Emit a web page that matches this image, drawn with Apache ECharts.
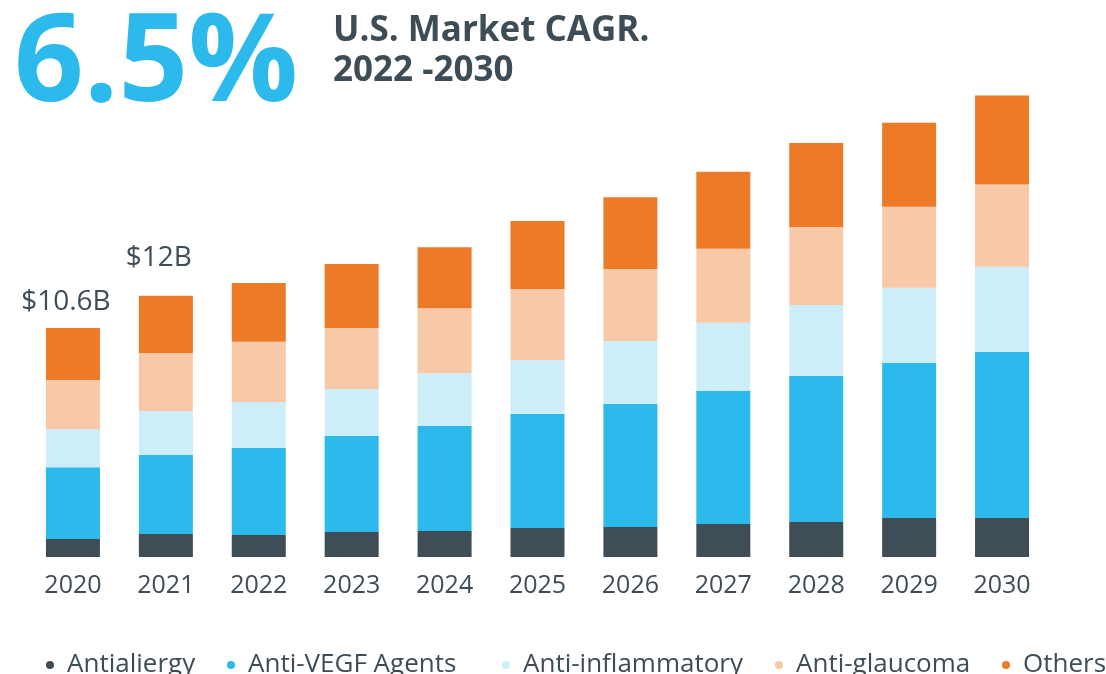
<!DOCTYPE html>
<html>
<head>
<meta charset="utf-8">
<title>U.S. Market CAGR 2022-2030</title>
<script src="https://cdn.jsdelivr.net/npm/echarts@6/dist/echarts.min.js"></script>
<style>
  html, body { margin: 0; padding: 0; background: #fff; }
  #chart { width: 1106px; height: 674px; }
</style>
</head>
<body>
<div id="chart"></div>
<script>
// market size by segment, US$ billion
const years = ['2020', '2021', '2022', '2023', '2024', '2025', '2026', '2027', '2028', '2029', '2030']
const antiallergy = [0.83, 1.06, 1.02, 1.16, 1.2, 1.34, 1.39, 1.53, 1.62, 1.81, 1.81]
const antiVegf = [3.33, 3.66, 4.03, 4.44, 4.86, 5.28, 5.69, 6.16, 6.76, 7.18, 7.69]
const antiInflammatory = [1.76, 2.04, 2.13, 2.18, 2.45, 2.5, 2.92, 3.15, 3.29, 3.47, 3.94]
const antiGlaucoma = [2.27, 2.69, 2.78, 2.82, 3.01, 3.29, 3.33, 3.43, 3.61, 3.75, 3.8]
const others = [2.41, 2.64, 2.73, 2.96, 2.82, 3.15, 3.33, 3.56, 3.89, 3.89, 4.12]
const totalLabels = ['$10.6B', '$12B', '', '', '', '', '', '', '', '', '']
const segmentNames = ['Antialiergy', 'Anti-VEGF Agents', 'Anti-inflammatory', 'Anti-glaucoma', 'Others']

const textColor = '#3e4c56'
const font = '"Open Sans", sans-serif'

const chart = echarts.init(document.getElementById('chart'))

// label offsets above the first two bars
const labelOffsets = [[-7, -12], [-7, -24]]
// left edge of each legend entry
const legendLefts = [46, 227, 502, 775, 1002]

function segment(name, data, color) {
  return {
    name,
    type: 'bar',
    stack: 'total',
    barWidth: 54,
    itemStyle: { color },
    emphasis: { disabled: true },
    data
  }
}

const topSeries = segment('Others', others.map((v, i) => {
  if (!totalLabels[i]) return v
  return {
    value: v,
    label: {
      show: true,
      position: 'top',
      distance: 0,
      offset: labelOffsets[i] || [0, 0],
      formatter: totalLabels[i],
      color: textColor,
      fontFamily: font,
      fontSize: 28
    }
  }
}), '#ec7a27')

const legends = segmentNames.map((name, i) => ({
  left: legendLefts[i],
  top: 652,
  padding: 0,
  icon: 'circle',
  itemWidth: 24,
  itemHeight: 8,
  textStyle: {
    color: textColor,
    fontFamily: font,
    fontSize: 26,
    lineHeight: 26,
    padding: 0
  },
  data: [name]
}))

chart.setOption({
  backgroundColor: '#fff',
  animation: false,
  textStyle: { fontFamily: font },
  title: [
    {
      text: '6.5%',
      left: 14,
      top: 5,
      padding: 0,
      textStyle: {
        color: '#2cb9ec',
        fontFamily: font,
        fontWeight: 'bold',
        fontSize: 122,
        lineHeight: 122
      }
    },
    {
      text: 'U.S. Market CAGR.\n2022 -2030',
      left: 333,
      top: 11,
      padding: 0,
      textStyle: {
        color: textColor,
        fontFamily: font,
        fontWeight: 'bold',
        fontSize: 35,
        lineHeight: 40
      }
    }
  ],
  legend: legends,
  grid: {
    left: 26.5,
    right: 57.5,
    top: 38.6,
    bottom: 117
  },
  xAxis: {
    type: 'category',
    data: years,
    axisLine: { show: false },
    axisTick: { show: false },
    axisLabel: {
      color: textColor,
      fontFamily: font,
      fontSize: 25,
      margin: 16
    }
  },
  yAxis: {
    type: 'value',
    min: 0,
    max: 24,
    show: false
  },
  series: [
    segment(segmentNames[0], antiallergy, '#3f4d57'),
    segment(segmentNames[1], antiVegf, '#2cb9ec'),
    segment(segmentNames[2], antiInflammatory, '#cdeef9'),
    segment(segmentNames[3], antiGlaucoma, '#f7c9a9'),
    topSeries
  ]
})

window.addEventListener('resize', () => chart.resize())
</script>
</body>
</html>
